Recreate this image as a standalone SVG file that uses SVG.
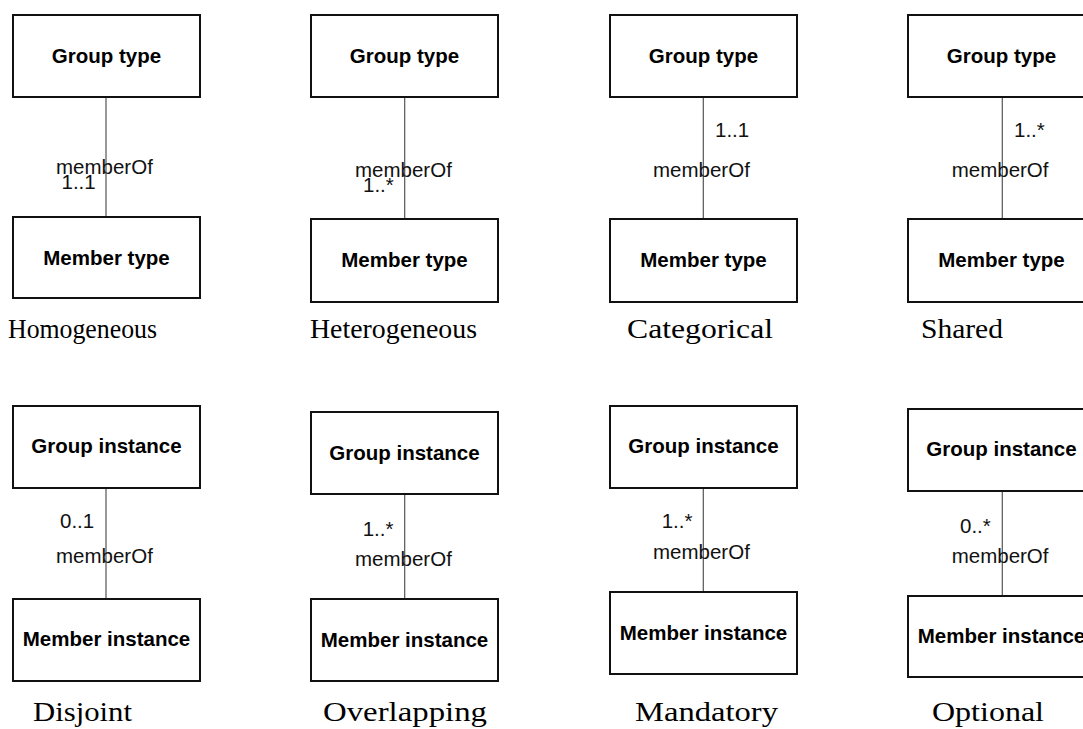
<svg xmlns="http://www.w3.org/2000/svg" width="1083" height="729" viewBox="0 0 1083 729">
  <style>
    .box { fill: #ffffff; stroke: #111111; stroke-width: 2; }
    .name { font-family: "Liberation Sans", Arial, sans-serif; font-weight: bold; font-size: 20.5px; fill: #000000; text-anchor: middle; }
    .lbl { font-family: "Liberation Sans", Arial, sans-serif; font-size: 20.5px; fill: #111111; }
    .link { stroke: #555555; stroke-width: 1.2; fill: none; }
    .cap { font-family: "Liberation Serif", "Times New Roman", serif; font-size: 27px; fill: #000000; }
  </style>

  <!-- association lines between group and member boxes -->
  <g id="connectors">
    <line class="link" x1="106" y1="97" x2="106" y2="217"/>
    <line class="link" x1="404.7" y1="97" x2="404.7" y2="219"/>
    <line class="link" x1="703.3" y1="97" x2="703.3" y2="219"/>
    <line class="link" x1="1002.3" y1="97" x2="1002.3" y2="219"/>
    <line class="link" x1="106" y1="488" x2="106" y2="599"/>
    <line class="link" x1="404.7" y1="494" x2="404.7" y2="599"/>
    <line class="link" x1="703.3" y1="488" x2="703.3" y2="592"/>
    <line class="link" x1="1002.3" y1="491" x2="1002.3" y2="596"/>
  </g>

  <!-- association labels -->
  <g id="labels">
    <text class="lbl" x="56" y="174">memberOf</text>
    <text class="lbl" x="61.5" y="188.5">1..1</text>
    <text class="lbl" x="355" y="177">memberOf</text>
    <text class="lbl" x="363" y="192">1..*</text>
    <text class="lbl" x="715" y="137.3">1..1</text>
    <text class="lbl" x="653" y="177">memberOf</text>
    <text class="lbl" x="1014" y="137.3">1..*</text>
    <text class="lbl" x="951.7" y="177">memberOf</text>
    <text class="lbl" x="60" y="528.3">0..1</text>
    <text class="lbl" x="56" y="563.3">memberOf</text>
    <text class="lbl" x="362.7" y="535.7">1..*</text>
    <text class="lbl" x="355" y="566">memberOf</text>
    <text class="lbl" x="661.7" y="528.3">1..*</text>
    <text class="lbl" x="653" y="559.3">memberOf</text>
    <text class="lbl" x="960" y="532.7">0..*</text>
    <text class="lbl" x="951.7" y="563.3">memberOf</text>
  </g>

  <!-- row 1: type level -->
  <g id="homog-group"><rect class="box" x="13" y="15" width="187" height="82"/><text class="name" x="106.5" y="62.5">Group type</text></g>
  <g id="homog-member"><rect class="box" x="13" y="217" width="187" height="81"/><text class="name" x="106.5" y="264.5">Member type</text></g>
  <g id="heterog-group"><rect class="box" x="311" y="15" width="187" height="82"/><text class="name" x="404.5" y="62.5">Group type</text></g>
  <g id="heterog-member"><rect class="box" x="311" y="219" width="187" height="83"/><text class="name" x="404.5" y="267">Member type</text></g>
  <g id="categ-group"><rect class="box" x="610" y="15" width="187" height="82"/><text class="name" x="703.5" y="62.5">Group type</text></g>
  <g id="categ-member"><rect class="box" x="610" y="219" width="187" height="83"/><text class="name" x="703.5" y="267">Member type</text></g>
  <g id="shared-group"><rect class="box" x="908" y="15" width="187" height="82"/><text class="name" x="1001.5" y="62.5">Group type</text></g>
  <g id="shared-member"><rect class="box" x="908" y="219" width="187" height="83"/><text class="name" x="1001.5" y="267">Member type</text></g>

  <!-- row 2: instance level -->
  <g id="disjoint-group"><rect class="box" x="13" y="406" width="187" height="82"/><text class="name" x="106.5" y="453">Group instance</text></g>
  <g id="disjoint-member"><rect class="box" x="13" y="599" width="187" height="82"/><text class="name" x="106.5" y="646">Member instance</text></g>
  <g id="overlap-group"><rect class="box" x="311" y="412" width="187" height="82"/><text class="name" x="404.5" y="460">Group instance</text></g>
  <g id="overlap-member"><rect class="box" x="311" y="599" width="187" height="82"/><text class="name" x="404.5" y="647">Member instance</text></g>
  <g id="mandatory-group"><rect class="box" x="610" y="406" width="187" height="82"/><text class="name" x="703.5" y="453">Group instance</text></g>
  <g id="mandatory-member"><rect class="box" x="610" y="592" width="187" height="82"/><text class="name" x="703.5" y="640">Member instance</text></g>
  <g id="optional-group"><rect class="box" x="908" y="409" width="187" height="82"/><text class="name" x="1001.5" y="456">Group instance</text></g>
  <g id="optional-member"><rect class="box" x="908" y="596" width="187" height="81"/><text class="name" x="1001.5" y="643">Member instance</text></g>

  <!-- captions -->
  <g id="captions">
    <text class="cap" x="8" y="338" textLength="149" lengthAdjust="spacingAndGlyphs">Homogeneous</text>
    <text class="cap" x="310" y="338" textLength="167" lengthAdjust="spacingAndGlyphs">Heterogeneous</text>
    <text class="cap" x="627" y="338" textLength="146" lengthAdjust="spacingAndGlyphs">Categorical</text>
    <text class="cap" x="921" y="338" textLength="82" lengthAdjust="spacingAndGlyphs">Shared</text>
    <text class="cap" x="33" y="721" textLength="99" lengthAdjust="spacingAndGlyphs">Disjoint</text>
    <text class="cap" x="323" y="721" textLength="164" lengthAdjust="spacingAndGlyphs">Overlapping</text>
    <text class="cap" x="635" y="721" textLength="143" lengthAdjust="spacingAndGlyphs">Mandatory</text>
    <text class="cap" x="932" y="721" textLength="112" lengthAdjust="spacingAndGlyphs">Optional</text>
  </g>
</svg>
